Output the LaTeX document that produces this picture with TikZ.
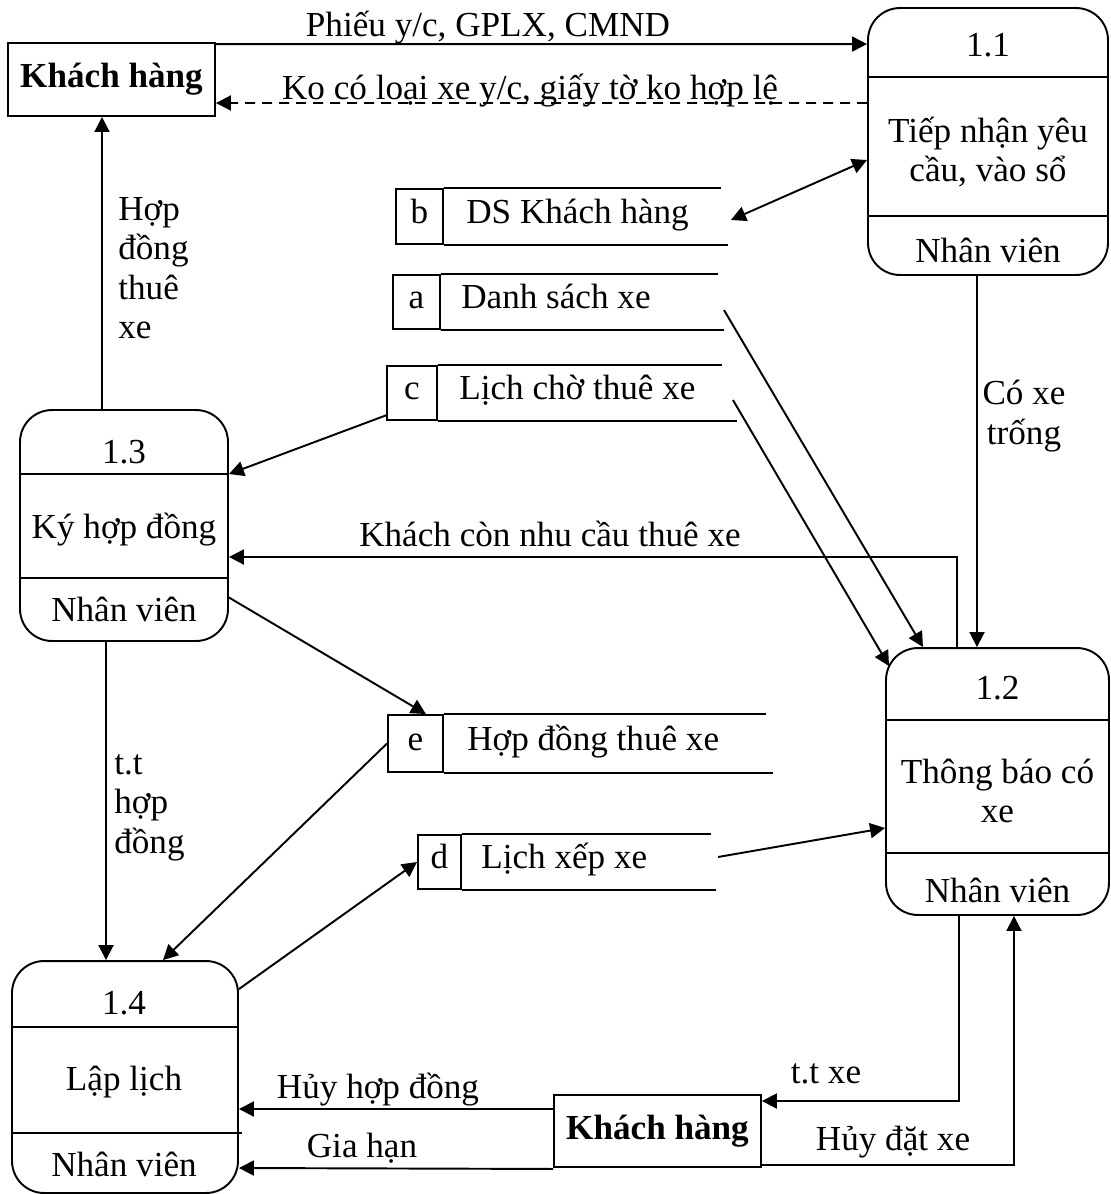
\documentclass[tikz,border=0pt]{standalone}
\usepackage{fontspec}
\setmainfont{Liberation Serif}
\usetikzlibrary{arrows.meta,calc,positioning}

\begin{document}
\begin{tikzpicture}[x=0.02cm, y=-0.02cm,
    font=\fontsize{20}{22.5}\selectfont,
    >={Triangle[length=0.3cm,width=0.3cm]},
    border/.style={line width=1.1pt},
    proc/.style={draw, line width=1.1pt, rounded corners=0.64cm, inner sep=0},
    ext/.style={draw, line width=1.1pt, inner sep=0},
    skey/.style={draw, line width=1.1pt, inner sep=0, text height=0.86em, text depth=0.08em},
    stxt/.style={inner sep=0, text height=0.86em, text depth=0.08em},
    flow/.style={line width=1.1pt, ->},
    lbl/.style={inner sep=0}]
  \useasboundingbox (0,0) rectangle (1111,1194);

  %% external entities
  \node[ext, minimum width=4.14cm, minimum height=1.46cm] (kh1) at (111.5,79.5) {\textbf{Khách hàng}};
  \node[ext, minimum width=4.14cm, minimum height=1.44cm] (kh2) at (657.5,1131) {\textbf{Khách hàng}};

  %% processes
  \node[proc, minimum width=4.8cm,  minimum height=5.34cm] (p11) at (988,141.5) {};
  \node[proc, minimum width=4.46cm, minimum height=5.34cm] (p12) at (997.5,781.5) {};
  \node[proc, minimum width=4.16cm, minimum height=4.62cm] (p13) at (124,525.5) {};
  \node[proc, minimum width=4.52cm, minimum height=4.64cm] (p14) at (125,1077) {};
  \draw[border] (p11.west |- 0,77) -- (p11.east |- 0,77)
    (p11.west |- 0,216) -- (p11.east |- 0,216)
    (p12.west |- 0,720) -- (p12.east |- 0,720)
    (p12.west |- 0,853) -- (p12.east |- 0,853)
    (p13.west |- 0,474) -- (p13.east |- 0,474)
    (p13.west |- 0,578) -- (p13.east |- 0,578)
    (p14.west |- 0,1027) -- (p14.east |- 0,1027)
    (p14.west |- 0,1133) -- +(231,0);
  \node (p11n) at (988,45) {1.1};
  \node[align=center] (p11t) at (988,152) {Tiếp nhận yêu\\cầu, vào sổ};
  \node (p11s) at (988,250) {Nhân viên};
  \node (p12n) at (997.5,688) {1.2};
  \node[align=center] (p12t) at (997.5,791) {Thông báo có\\xe};
  \node (p12s) at (997.5,890) {Nhân viên};
  \node (p13n) at (124,452) {1.3};
  \node (p13t) at (124,530) {Ký hợp đồng};
  \node (p13s) at (124,609) {Nhân viên};
  \node (p14n) at (124,1003) {1.4};
  \node (p14t) at (124,1082) {Lập lịch};
  \node (p14s) at (124,1164) {Nhân viên};

  %% data stores
  \node[skey, minimum width=0.94cm, minimum height=1.1cm] (sb) at (419.5,216.5) {b};
  \node[stxt, right=0.44cm of sb] (sb-txt) {DS Khách hàng};
  \node[skey, minimum width=0.94cm, minimum height=1.08cm] (sa) at (416.5,302) {a};
  \node[stxt, right=0.4cm of sa] (sa-txt) {Danh sách xe};
  \node[skey, minimum width=1cm, minimum height=1.08cm] (sc) at (412,393) {c};
  \node[stxt, right=0.42cm of sc] (sc-txt) {Lịch chờ thuê xe};
  \node[skey, minimum width=1.1cm, minimum height=1.14cm] (se) at (415.5,743.5) {e};
  \node[stxt, right=0.46cm of se] (se-txt) {Hợp đồng thuê xe};
  \node[skey, minimum width=0.86cm, minimum height=1.08cm] (sd) at (439.5,862) {d};
  \node[stxt, right=0.38cm of sd] (sd-txt) {Lịch xếp xe};
  \foreach \st/\lt/\lb in {sb/277/284, sa/277/283, sc/284/299, se/322/329, sd/249/254}
    \draw[border] (\st.north east) -- ++(\lt,0) (\st.south east) -- ++(\lb,0);

  %% flows
  \draw[flow] ($(kh1.north east)+(0,2)$) -- ($(p11.north west)+(0,37)$);
  \node[lbl, anchor=base] (l-phieu) at (488,36) {Phiếu y/c, GPLX, CMND};
  \draw[flow, dash pattern=on 0.2cm off 0.14cm] ($(p11.west)+(0,-38.5)$) -- ($(kh1.east)+(0,23.5)$);
  \node[lbl, anchor=base] (l-kocoxe) at (530,99) {Ko có loại xe y/c, giấy tờ ko hợp lệ};
  \draw[flow, <->] ($(sb.east)+(287,3.5)$) -- ($(p11.west)+(0,18.5)$);
  \draw[flow] ($(sa.east)+(283,8)$) -- (p12.119);
  \draw[flow] ($(sc.east)+(295,7)$) -- ($(p12.north west)+(4,19)$);
  \draw[flow] ($(sc.south west)+(1,-6)$) -- ($(p13.north east)+(0,65)$);
  \draw[flow] ($(p11.south)+(-11,0)$) -- ($(p12.north)+(-20.5,0)$);
  \node[lbl, align=center] (l-coxe) at (1024,416) {Có xe\\trống};
  \draw[flow] ($(p12.north)+(-40.5,0)$) |- ($(p13.east)+(0,31.5)$);
  \node[lbl, anchor=base] (l-conthue) at (550,546) {Khách còn nhu cầu thuê xe};
  \draw[flow] ($(p13.north)+(-22,0)$) -- ($(kh1.south)+(-9.5,0)$);
  \node[lbl, align=left, anchor=north west] (l-hdtx) at (118,197) {Hợp\\đồng\\thuê\\xe};
  \draw[flow] ($(p13.east)+(0,72)$) -- ($(se.north east)+(-18,0)$);
  \draw[flow] ($(p13.south)+(-18,0)$) -- ($(p14.north)+(-19,0)$);
  \node[lbl, align=left, anchor=north west] (l-tthd) at (114,754) {t.t\\hợp\\đồng};
  \draw[flow] (se.west) -- ($(p14.north)+(38,0)$);
  \draw[flow] ($(p14.north east)+(0,29)$) -- (sd.west);
  \draw[flow] ($(sd.east)+(256,-5)$) -- ($(p12.west)+(0,46.5)$);
  \draw[flow] ($(p12.south)+(-38.5,0)$) |- ($(kh2.east)+(0,-30)$);
  \node[lbl, anchor=base] (l-ttxe) at (826,1083) {t.t xe};
  \draw[flow] ($(kh2.south east)+(0,-3)$) -| ($(p12.south)+(16.5,0)$);
  \node[lbl, anchor=base] (l-huydat) at (893,1150) {Hủy đặt xe};
  \draw[flow] ($(kh2.west)+(0,-22)$) -- ($(p14.east)+(0,32)$);
  \node[lbl, anchor=base] (l-huyhd) at (378,1098) {Hủy hợp đồng};
  \draw[flow] ($(kh2.south west)+(0,1)$) -- ($(p14.east)+(0,91)$);
  \node[lbl, anchor=base] (l-giahan) at (362,1157) {Gia hạn};
\end{tikzpicture}
\end{document}
